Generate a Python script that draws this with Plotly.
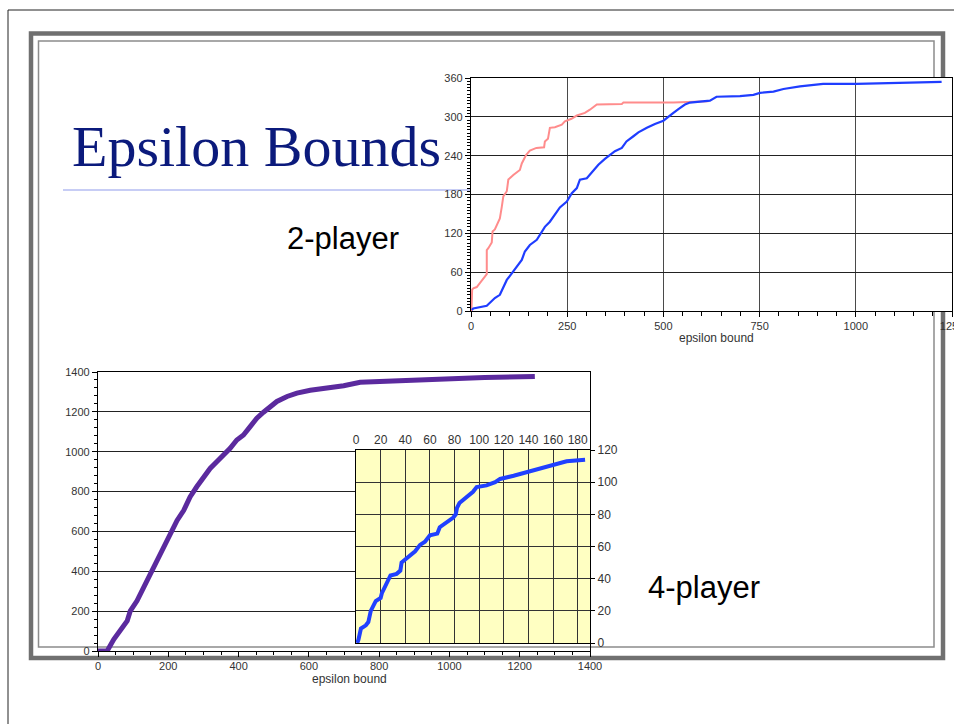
import plotly.graph_objects as go

W, H = 954, 724

# ---- 2-player: count of games vs epsilon bound ----
p2_red_x = [1, 3, 6, 15, 23, 32, 41, 41, 45, 54, 56, 62, 75, 80, 84, 93, 97, 110, 127, 132,
            140, 143, 153, 170, 190, 192, 200, 205, 218, 236, 244, 261, 275, 296, 309, 320, 327,
            392, 396, 526, 617]
p2_red_y = [0, 33, 35, 37, 43, 50, 57, 94, 97, 106, 123, 126, 143, 161, 177, 185, 203, 210, 218, 228,
            236, 241, 248, 252, 253, 262, 266, 283, 284, 288, 293, 297, 302, 306, 311, 316, 319,
            320, 322, 322, 324]
p2_blue_x = [2, 6, 41, 49, 62, 75, 84, 93, 106, 119, 132, 140, 153, 171, 183, 192, 205, 218, 231, 249,
             262, 275, 283, 301, 318, 331, 348, 361, 374, 392, 404, 422, 435, 457, 478, 500, 517, 526,
             539, 556, 569, 604, 621, 638, 699, 734, 751, 786, 812, 855, 915, 1002, 1132, 1223]
p2_blue_y = [1.5, 4, 8, 13, 20, 25, 38, 48, 58, 69, 79, 92, 102, 110, 121, 130, 138, 149, 160, 169,
             182, 190, 203, 205, 216, 226, 235, 241, 247, 252, 262, 270, 276, 283, 289, 294, 301, 306,
             312, 319, 322, 324, 325, 331, 332, 334, 337, 339, 343, 347, 351, 351, 353, 354]

# ---- 4-player: full range ----
p4_x = [0, 26, 45, 64, 83, 92, 111, 130, 149, 168, 187, 206, 225, 244, 262, 281, 300, 319, 338, 357,
        376, 395, 414, 433, 452, 471, 490, 509, 538, 566, 604, 651, 699, 746, 800, 900, 1000, 1100, 1243]
p4_y = [0, 0, 59, 101, 151, 202, 252, 319, 387, 454, 521, 597, 655, 706, 773, 824, 874, 916, 950, 983,
        1017, 1059, 1084, 1126, 1168, 1198, 1227, 1252, 1277, 1294, 1308, 1319, 1331, 1348, 1352, 1362,
        1368, 1372, 1378]

# ---- 4-player: zoom on small bounds ----
p4z_x = [1, 2, 4, 8, 10, 12, 16, 20, 21, 24, 26, 28, 33, 36, 37, 40, 44, 48, 52, 56,
         60, 66, 68, 74, 79, 81, 82, 84, 90, 95, 98, 106, 113, 117, 128, 138, 145, 160, 171, 186]
p4z_y = [0, 2, 9, 11, 13, 20, 26, 28, 31, 36, 38, 42, 43, 45, 50, 52, 54, 57, 61, 63,
         67, 68, 72, 75, 78, 80, 84, 87, 91, 94, 97, 98, 100, 102, 104, 106, 108, 111, 113, 114]

X1_RANGE, Y1_RANGE = [0, 1250], [0, 360]
X2_RANGE, Y2_RANGE = [0, 1400], [0, 1400]
X3_RANGE, Y3_RANGE = [0, 190], [0, 120]


def px_x(v):
    return v / W


def px_y(v):
    return 1 - v / H


tick_font = dict(family="Liberation Sans, Arial, sans-serif", size=11, color="#333333")

fig = go.Figure()
fig.add_trace(go.Scatter(x=p2_red_x, y=p2_red_y, mode="lines", xaxis="x", yaxis="y",
                         line=dict(color="#ff8c8c", width=2)))
fig.add_trace(go.Scatter(x=p2_blue_x, y=p2_blue_y, mode="lines", xaxis="x", yaxis="y",
                         line=dict(color="#1f3dff", width=2.2)))
fig.add_trace(go.Scatter(x=p4_x, y=p4_y, mode="lines", xaxis="x2", yaxis="y2",
                         line=dict(color="#5b2a9e", width=5)))
fig.add_trace(go.Scatter(x=p4z_x, y=p4z_y, mode="lines", xaxis="x3", yaxis="y3",
                         line=dict(color="#2040ff", width=4)))

shapes = [
    # page edge
    dict(type="line", xref="paper", yref="paper", x0=px_x(8), x1=px_x(8), y0=px_y(10), y1=0,
         line=dict(color="#222222", width=1), layer="below"),
    dict(type="line", xref="paper", yref="paper", x0=px_x(8), x1=1, y0=px_y(10), y1=px_y(10),
         line=dict(color="#222222", width=1), layer="below"),
    # slide frame
    dict(type="rect", xref="paper", yref="paper", x0=px_x(31), x1=px_x(943), y0=px_y(33.5), y1=px_y(658),
         line=dict(color="#707070", width=4.5), layer="below"),
    dict(type="rect", xref="paper", yref="paper", x0=px_x(38.5), x1=px_x(934), y0=px_y(41), y1=px_y(647),
         line=dict(color="#8c8c8c", width=1.5), layer="below"),
    # title rule
    dict(type="line", xref="paper", yref="paper", x0=px_x(63), x1=px_x(471), y0=px_y(190), y1=px_y(190),
         line=dict(color="#b4bcf2", width=1.5), layer="below"),
    # plot-area fills, drawn inside each subplot's own layer
    dict(type="rect", xref="x", yref="y", x0=X1_RANGE[0], x1=X1_RANGE[1], y0=Y1_RANGE[0], y1=Y1_RANGE[1],
         fillcolor="white", line=dict(width=0), layer="below"),
    dict(type="rect", xref="x3", yref="y3", x0=X3_RANGE[0], x1=X3_RANGE[1], y0=Y3_RANGE[0], y1=Y3_RANGE[1],
         fillcolor="#ffffc2", line=dict(width=0), layer="below"),
]

annotations = [
    dict(text="Epsilon Bounds", xref="paper", yref="paper", x=px_x(70), y=px_y(146),
         xanchor="left", yanchor="middle", showarrow=False,
         font=dict(family="Liberation Serif, Times New Roman, serif", size=58, color="#0b1a7c")),
    dict(text="2-player", xref="paper", yref="paper", x=px_x(285), y=px_y(239),
         xanchor="left", yanchor="middle", showarrow=False,
         font=dict(family="Liberation Sans, Arial, sans-serif", size=31, color="black")),
    dict(text="4-player", xref="paper", yref="paper", x=px_x(646), y=px_y(587),
         xanchor="left", yanchor="middle", showarrow=False,
         font=dict(family="Liberation Sans, Arial, sans-serif", size=31, color="black")),
    dict(text="epsilon bound", xref="paper", yref="paper", x=px_x(716), y=px_y(338),
         xanchor="center", yanchor="middle", showarrow=False,
         font=dict(family="Liberation Sans, Arial, sans-serif", size=12, color="#333333")),
    dict(text="epsilon bound", xref="paper", yref="paper", x=px_x(349), y=px_y(679),
         xanchor="center", yanchor="middle", showarrow=False,
         font=dict(family="Liberation Sans, Arial, sans-serif", size=12, color="#333333")),
]

common = dict(showline=True, linecolor="black", linewidth=1.2, mirror=True, zeroline=False,
              tickfont=tick_font, ticks="outside", tickcolor="black", automargin=False,
              ticklabeloverflow="allow")

fig.update_layout(
    width=W, height=H, margin=dict(l=0, r=0, t=0, b=0),
    paper_bgcolor="white", plot_bgcolor="rgba(0,0,0,0)", showlegend=False,
    shapes=shapes, annotations=annotations,
    xaxis=dict(domain=[px_x(471), px_x(952)], range=X1_RANGE, dtick=250, ticklen=5,
               showgrid=True, gridcolor="#4a4a4a", gridwidth=1.2,
               minor=dict(dtick=50, ticks="outside", ticklen=4, tickcolor="black", showgrid=False),
               anchor="y", **common),
    yaxis=dict(domain=[px_y(311), px_y(78)], range=Y1_RANGE, dtick=60, ticklen=5,
               showgrid=True, gridcolor="#222222", gridwidth=1.2,
               minor=dict(dtick=5, ticks="outside", ticklen=3, tickcolor="black", showgrid=False),
               anchor="x", **common),
    xaxis2=dict(domain=[px_x(98), px_x(590)], range=X2_RANGE, dtick=200, ticklen=5, showgrid=False,
                minor=dict(dtick=50, ticks="outside", ticklen=3, tickcolor="black", showgrid=False),
                anchor="y2", **common),
    yaxis2=dict(domain=[px_y(651), px_y(372)], range=Y2_RANGE, dtick=200, ticklen=5,
                showgrid=True, gridcolor="#222222", gridwidth=1.2,
                minor=dict(dtick=40, ticks="outside", ticklen=3, tickcolor="black", showgrid=False),
                anchor="x2", **common),
    xaxis3=dict(domain=[px_x(356), px_x(590)], range=X3_RANGE, dtick=20, side="top",
                showgrid=True, gridcolor="#333333", gridwidth=1.2, anchor="y3",
                showline=True, linecolor="black", linewidth=1.2, mirror=True, zeroline=False,
                tickfont=dict(family="Liberation Sans, Arial, sans-serif", size=12, color="#333333"),
                ticks="", automargin=False),
    yaxis3=dict(domain=[px_y(643), px_y(450)], range=Y3_RANGE, dtick=20, side="right",
                showgrid=True, gridcolor="#333333", gridwidth=1.2, anchor="x3",
                showline=True, linecolor="black", linewidth=1.2, mirror=True, zeroline=False,
                tickfont=dict(family="Liberation Sans, Arial, sans-serif", size=12, color="#333333"),
                ticks="outside", ticklen=4, tickcolor="black", automargin=False),
)

fig.write_html("out.html")
